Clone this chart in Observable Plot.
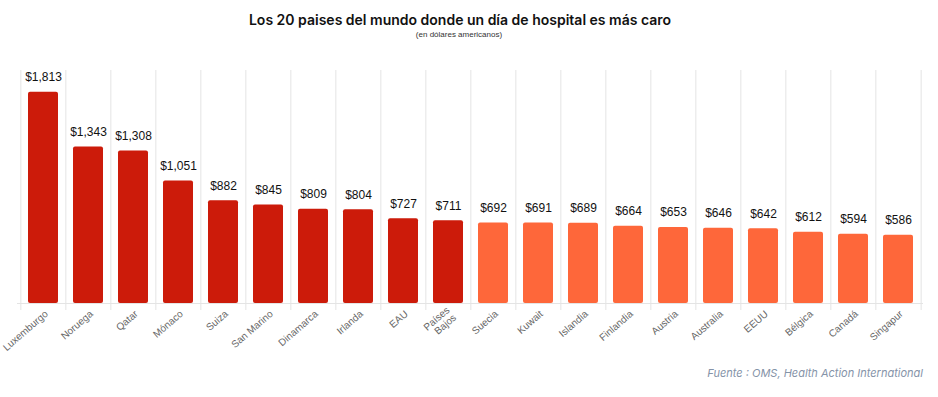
<!DOCTYPE html>
<html><head><meta charset="utf-8">
<script src="https://cdn.jsdelivr.net/npm/d3@7"></script>
<script src="https://cdn.jsdelivr.net/npm/@observablehq/plot@0.6"></script>
<style>
body{margin:0;background:#fff;}
#wrap{position:relative;width:938px;height:397px;}
#title{position:absolute;top:11px;left:0;width:920px;text-align:center;font-family:Inter,"Liberation Sans",sans-serif;font-weight:600;font-size:14px;color:#111;}
#sub{position:absolute;top:30px;left:0;width:918px;text-align:center;font-family:"Liberation Sans",Arial,sans-serif;font-size:8px;color:#333;}
#cap{position:absolute;top:366px;right:15px;font-family:Inter,"Liberation Sans",sans-serif;font-style:italic;font-size:11px;color:#8593a8;}
#chart{position:absolute;top:0;left:0;}
</style></head>
<body><div id="wrap">
<div id="chart"></div>
<div id="title">Los 20 paises del mundo donde un día de hospital es más caro</div>
<div id="sub">(en dólares americanos)</div>
<div id="cap">Fuente : OMS, Health Action International</div>
</div>
<script>
const countries = ["Luxemburgo","Noruega","Qatar","Mónaco","Suiza","San Marino","Dinamarca","Irlanda","EAU","Países\nBajos","Suecia","Kuwait","Islandia","Finlandia","Austria","Australia","EEUU","Bélgica","Canadá","Singapur"];
const costs = [1813,1343,1308,1051,882,845,809,804,727,711,692,691,689,664,653,646,642,612,594,586];
const groups = ["top","top","top","top","top","top","top","top","top","top","rest","rest","rest","rest","rest","rest","rest","rest","rest","rest"];

const data = countries.map((c,i)=>({country:c, cost:costs[i], group:groups[i]}));
const W = 938, mL = 17, mR = 15;
const step = (W - mL - mR) / countries.length;
const fmt = d3.format("$,");

const chart = Plot.plot({
  width: W, height: 397,
  marginTop: 70, marginBottom: 94, marginLeft: mL, marginRight: mR,
  style: {fontFamily: "'Liberation Sans', Arial, sans-serif", background: "transparent"},
  x: {domain: countries, paddingInner: 0.34, paddingOuter: 0.17, label: null},
  y: {domain: [0, 2000], axis: null},
  color: {domain: ["top","rest"], range: ["#cc1b0a","#fe673a"]},
  marks: [
    Plot.ruleX(countries, {x: d => d, dx: -step/2, stroke: "#e4e4e4", insetBottom: -7}),
    Plot.ruleX([countries[countries.length-1]], {x: d => d, dx: step/2, stroke: "#e4e4e4", insetBottom: -7}),
    Plot.ruleY([0], {stroke: "#e4e4e4"}),
    Plot.barY(data, {x: "country", y: "cost", fill: "group", rx: 2}),
    Plot.text(data, {x: "country", y: "cost", text: d => fmt(d.cost), dy: -15, fontSize: 12, fill: "#111"}),
    Plot.axisX({tickSize: 0, tickPadding: 9, tickRotate: -41, fontSize: 10, fill: "#666", dx: 3})
  ]
});
document.getElementById("chart").appendChild(chart);
</script>
</body></html>
